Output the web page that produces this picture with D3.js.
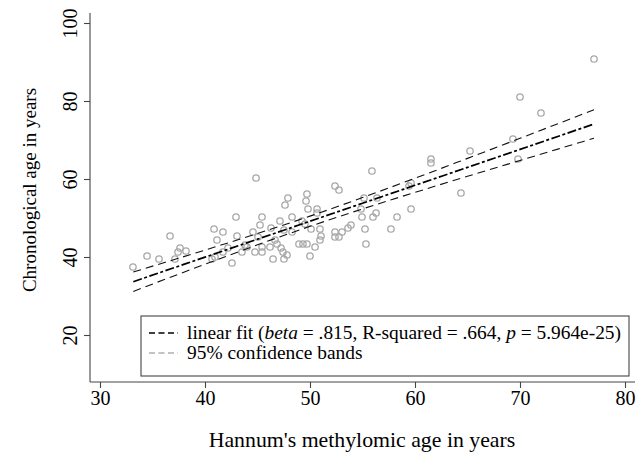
<!DOCTYPE html>
<html><head><meta charset="utf-8">
<script src="https://cdn.jsdelivr.net/npm/d3@7"></script>
<style>body{margin:0;background:#fff}svg{display:block}text{font-family:"Liberation Serif","Times New Roman",serif;fill:#000}</style>
</head><body>
<script>
const hannum = [33.14,34.48,35.62,36.67,37.14,37.62,37.43,38.19,40.86,41.71,41.14,40.67,40.95,41.71,42.19,42.95,43.05,42.57,43.52,43.81,44.0,44.86,44.57,44.76,45.24,45.43,45.05,45.43,45.43,46.19,46.29,46.48,46.67,46.86,47.14,47.24,47.43,47.52,47.81,47.62,47.90,47.52,48.29,48.29,49.24,49.52,48.95,49.33,49.71,49.62,49.71,49.81,50.0,50.10,50.48,50.67,50.67,50.95,51.05,50.95,52.38,52.76,52.38,52.38,52.76,53.05,53.62,53.90,54.86,55.14,54.95,55.24,55.33,55.90,56.0,56.29,56.38,57.71,58.29,59.43,59.62,59.62,61.52,61.52,64.38,65.24,69.33,69.81,70.0,72.0,77.05];
const chrono = [37.44,40.26,39.49,45.38,39.49,42.31,41.28,41.54,47.18,46.41,44.36,39.49,40.0,41.28,42.31,50.26,45.38,38.46,41.28,43.08,42.56,60.26,46.41,41.28,48.21,50.26,45.13,42.56,41.28,42.56,47.44,39.49,44.36,43.33,49.23,42.31,41.28,39.49,40.51,53.33,55.13,46.92,50.26,46.41,49.23,48.46,43.33,43.33,43.33,54.36,56.15,52.31,40.26,47.18,42.56,52.31,51.28,47.18,45.38,44.36,58.21,57.18,46.41,45.13,45.13,46.41,47.44,48.21,52.31,55.13,50.26,47.18,43.33,62.05,50.26,51.28,55.13,47.18,50.26,58.21,58.97,52.31,65.13,64.10,56.41,67.18,70.26,65.13,81.03,76.92,90.77];
const bandX = [33.17,36,40,45,50,55,60,65,70,77.05];
const fitY = [33.67,36.28,39.96,44.57,49.17,53.78,58.38,62.99,67.59,74.10];
const upperY = [36.16,38.47,41.77,46.02,50.48,55.23,60.19,65.29,70.43,77.75];
const lowerY = [31.18,34.09,38.15,43.12,47.86,52.33,56.57,60.69,64.75,70.45];
const xTicks = [30,40,50,60,70,80];
const yTicks = [20,40,60,80,100];
const legendLabels = ["linear fit (", "beta", " = .815, R-squared = .664, ", "p", " = 5.964e-25)"];
const legendLabel2 = "95% confidence bands";

(function(){
const W=644,H=454;
const svg=d3.select("body").append("svg").attr("width",W).attr("height",H);
const x=d3.scaleLinear().domain([30,80]).range([100,625]);
const y=d3.scaleLinear().domain([20,100]).range([335,23]);
const pL=90,pB=382,pT=13,pR=635;

// points
svg.append("g").selectAll("circle").data(hannum.map((h,i)=>[h,chrono[i]])).join("circle")
  .attr("cx",d=>x(d[0])).attr("cy",d=>y(d[1])).attr("r",3.2)
  .attr("fill","none").attr("stroke","#a8a8a8").attr("stroke-width",1.3);

const line=d3.line().x(d=>x(d[0])).y(d=>y(d[1])).curve(d3.curveMonotoneX);
const mk=arr=>bandX.map((v,i)=>[v,arr[i]]);
svg.append("path").attr("d",line(mk(upperY))).attr("fill","none").attr("stroke","#111").attr("stroke-width",1.1).attr("stroke-dasharray","8,5");
svg.append("path").attr("d",line(mk(lowerY))).attr("fill","none").attr("stroke","#111").attr("stroke-width",1.1).attr("stroke-dasharray","8,5");
svg.append("path").attr("d",line(mk(fitY))).attr("fill","none").attr("stroke","#000").attr("stroke-width",1.7).attr("stroke-dasharray","9,2.5,3,2.5");

// axes
const ax=svg.append("g").attr("stroke","#444").attr("stroke-width",1.1);
ax.append("line").attr("x1",pL).attr("x2",pL).attr("y1",pT).attr("y2",pB);
ax.append("line").attr("x1",pL).attr("x2",pR).attr("y1",pB).attr("y2",pB);
const xa=d3.axisBottom(x).tickValues(xTicks).tickSize(6).tickPadding(3);
const gx=svg.append("g").attr("transform",`translate(0,${pB})`).call(xa);
gx.attr("font-family",null).attr("font-size",null);
gx.select(".domain").remove();
gx.selectAll("line").attr("stroke","#444").attr("stroke-width",1.1);
gx.selectAll("text").style("font-size","20px").attr("dy","0.8em").attr("y",7);
const ya=d3.axisLeft(y).tickValues(yTicks).tickSize(6).tickPadding(4);
const gy=svg.append("g").attr("transform",`translate(${pL},0)`).call(ya);
gy.attr("font-family",null).attr("font-size",null);
gy.select(".domain").remove();
gy.selectAll("line").attr("stroke","#444").attr("stroke-width",1.1);
gy.selectAll("text").style("font-size","20px")
  .attr("x",0).attr("y",0).attr("dy","0.35em")
  .attr("transform","translate(-20,0) rotate(-90)").attr("text-anchor","middle");

svg.append("text").attr("x",362).attr("y",447).attr("text-anchor","middle").style("font-size","21.8px").text("Hannum's methylomic age in years");
svg.append("text").attr("transform","translate(36,190) rotate(-90)").attr("text-anchor","middle").style("font-size","19px").text("Chronological age in years");

// legend
const lg=svg.append("g");
lg.append("rect").attr("x",141).attr("y",316).attr("width",488).attr("height",60).attr("fill","#fff").attr("stroke","#444").attr("stroke-width",1.1);
lg.append("line").attr("x1",149).attr("x2",178).attr("y1",333).attr("y2",333).attr("stroke","#000").attr("stroke-width",1.7).attr("stroke-dasharray","6,3.5");
lg.append("line").attr("x1",149).attr("x2",178).attr("y1",353).attr("y2",353).attr("stroke","#888").attr("stroke-width",1.1).attr("stroke-dasharray","6,3.5");
const t1=lg.append("text").attr("x",187).attr("y",339).style("font-size","19.4px");
legendLabels.forEach((s,i)=>t1.append("tspan").text(s).style("font-style",(i===1||i===3)?"italic":"normal"));
lg.append("text").attr("x",187).attr("y",359).style("font-size","19.4px").text(legendLabel2);
})();
</script>
</body></html>
